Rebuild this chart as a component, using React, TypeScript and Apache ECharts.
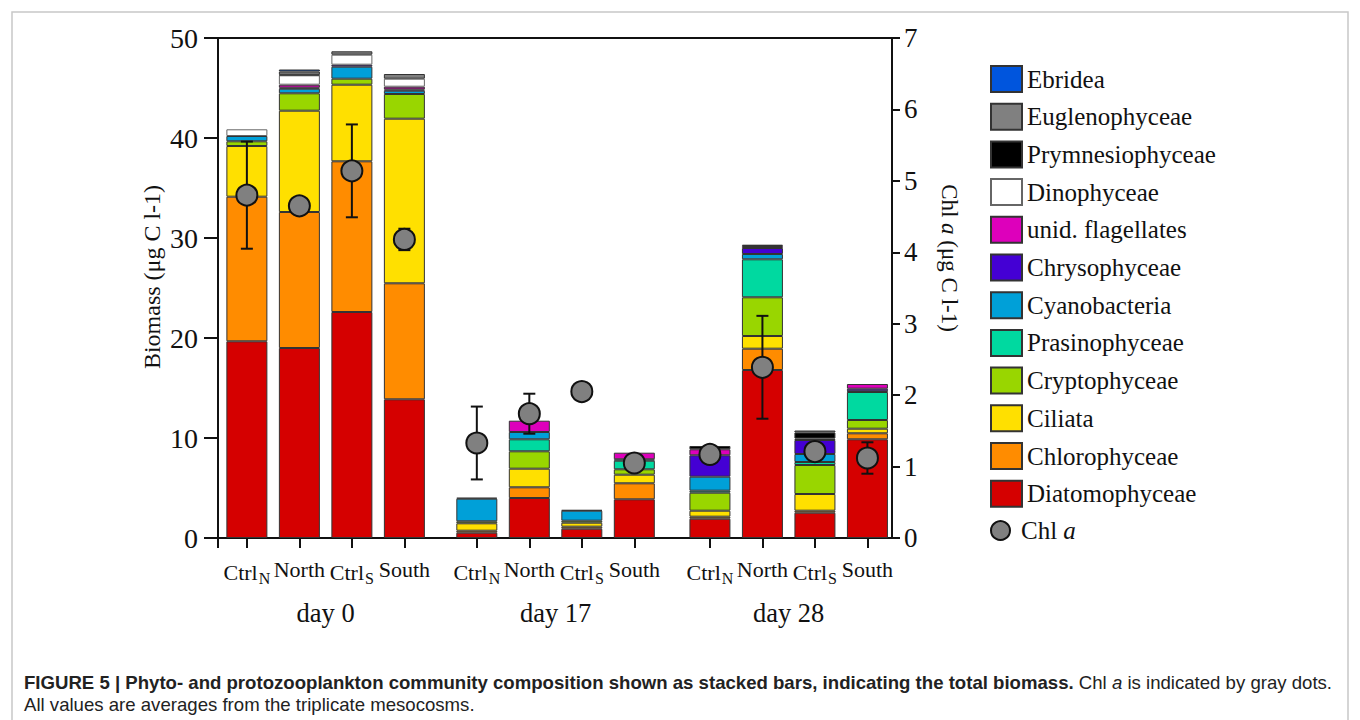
import React, { useEffect, useRef } from "react";
import * as echarts from "echarts";

// ---------- data ----------
const groups = ["day 0", "day 17", "day 28"];
const treatments = ["Ctrl{s|N}", "North", "Ctrl{s|S}", "South"];

// bottom-to-top stacking order; 12 bars: day0 (CtrlN, North, CtrlS, South), day17 (...), day28 (...)
const diatomophyceae = [19.67, 19.0, 22.6, 13.87, 0.53, 4.0, 0.93, 3.87, 1.93, 16.8, 2.53, 9.87];
const chlorophyceae = [14.46, 13.6, 15.07, 11.6, 0.2, 1.07, 0.2, 1.6, 0.2, 2.13, 0.2, 0.6];
const ciliata = [5.07, 10.13, 7.66, 16.46, 0.74, 1.86, 0.4, 0.86, 0.6, 1.27, 1.67, 0.46];
const cryptophyceae = [0.47, 1.74, 0.6, 2.47, 0.2, 1.74, 0.2, 0.54, 1.8, 3.87, 2.9, 0.87];
const prasinophyceae = [0, 0, 0, 0, 0, 1.2, 0, 0.86, 0.2, 3.8, 0.3, 2.8];
const cyanobacteria = [0.53, 0.46, 1.2, 0.33, 2.26, 0.73, 1.0, 0.14, 1.4, 0.53, 0.8, 0.07];
const chrysophyceae = [0, 0.1, 0.2, 0.13, 0.1, 0, 0.07, 0, 2.14, 0.6, 1.4, 0.26];
const unidFlagellates = [0, 0.3, 0, 0.27, 0, 1.13, 0, 0.66, 0.6, 0.2, 0.15, 0.47];
const dinophyceae = [0.67, 0.94, 1.0, 0.8, 0, 0, 0, 0, 0, 0, 0, 0];
const prymnesiophyceae = [0, 0.05, 0, 0, 0, 0, 0, 0, 0.33, 0.13, 0.6, 0];
const euglenophyceae = [0, 0.33, 0.34, 0.47, 0, 0, 0, 0, 0, 0, 0.2, 0];
const ebridea = [0, 0.2, 0, 0, 0, 0, 0, 0, 0, 0, 0, 0];

const chlA = [4.8, 4.65, 5.14, 4.18, 1.33, 1.74, 2.05, 1.05, 1.17, 2.39, 1.21, 1.12];
const chlAErr = [0.75, 0.05, 0.65, 0.15, 0.51, 0.28, 0.03, 0.05, 0.03, 0.72, 0.03, 0.22];

// ---------- layout (not data) ----------
// three sub-grids (one per sampling day), each a 4-slot category axis, plus a main frame grid
const SLOT = 52.5; // px per bar slot
const FRAME_LEFT = 218;
const FRAME_RIGHT = 892;
const FRAME_TOP = 38;
const FRAME_BOTTOM = 538;
const groupStart = [0.55, 4.93, 9.37]; // centre of first bar of each group, in slots from the left axis
const X_MAX = (FRAME_RIGHT - FRAME_LEFT) / SLOT;
const positions = diatomophyceae.map((_, i) => groupStart[Math.floor(i / 4)] + (i % 4));
const groupCentres = groupStart.map((s) => s + 1.5);

const SERIF = "Liberation Serif";

const speciesDefs: { name: string; values: number[]; color: string; border?: string }[] = [
  { name: "Diatomophyceae", values: diatomophyceae, color: "#d50000" },
  { name: "Chlorophyceae", values: chlorophyceae, color: "#ff8c00" },
  { name: "Ciliata", values: ciliata, color: "#ffe000" },
  { name: "Cryptophyceae", values: cryptophyceae, color: "#99d600" },
  { name: "Prasinophyceae", values: prasinophyceae, color: "#00d9a0" },
  { name: "Cyanobacteria", values: cyanobacteria, color: "#00a0d8" },
  { name: "Chrysophyceae", values: chrysophyceae, color: "#4400d4" },
  { name: "unid. flagellates", values: unidFlagellates, color: "#dd00bb" },
  { name: "Dinophyceae", values: dinophyceae, color: "#ffffff", border: "#666" },
  { name: "Prymnesiophyceae", values: prymnesiophyceae, color: "#000000" },
  { name: "Euglenophyceae", values: euglenophyceae, color: "#808080" },
  { name: "Ebridea", values: ebridea, color: "#0055dd" },
];

export default function App() {
  const ref = useRef<HTMLDivElement>(null);
  useEffect(() => {
    if (!ref.current) return;
    const chart = echarts.init(ref.current, undefined, { renderer: "svg" });

    const W = 1360;
    const H = 720;

    // grid 0: main frame; grids 1..3: one per day
    const grids: any[] = [
      {
        left: FRAME_LEFT,
        right: W - FRAME_RIGHT,
        top: FRAME_TOP,
        bottom: H - FRAME_BOTTOM,
        show: true,
        borderColor: "#111",
        borderWidth: 2,
        z: 1,
      },
      ...groupStart.map((s) => ({
        left: FRAME_LEFT + (s - 0.5) * SLOT,
        width: 4 * SLOT,
        top: FRAME_TOP,
        bottom: H - FRAME_BOTTOM,
        show: false,
      })),
    ];

    const subX = groupStart.map((_, g) => ({
      type: "category",
      gridIndex: g + 1,
      data: [0, 1, 2, 3].map((k) => String(g * 4 + k)),
      show: false,
    }));
    const subY = groupStart.map((_, g) => ({
      type: "value",
      gridIndex: g + 1,
      min: 0,
      max: 50,
      show: false,
      splitLine: { show: false },
    }));

    const barSeries: any[] = [];
    speciesDefs.forEach((s) => {
      groupStart.forEach((_, g) => {
        barSeries.push({
          name: s.name,
          type: "bar",
          stack: "biomass" + g,
          barWidth: 41,
          xAxisIndex: 2 + g,
          yAxisIndex: 2 + g,
          z: 2,
          itemStyle: { color: s.color, borderColor: s.border || "#333", borderWidth: 1 },
          data: s.values.slice(g * 4, g * 4 + 4).map((v) => (v > 0 ? v : "-")),
        });
      });
    });

    const option: any = {
      animation: false,
      backgroundColor: "#fff",
      grid: grids,
      xAxis: [
        {
          type: "value",
          gridIndex: 0,
          min: 0,
          max: X_MAX,
          position: "bottom",
          splitLine: { show: false },
          axisLine: { show: true, onZero: false, lineStyle: { color: "#111", width: 2 } },
          axisTick: {
            show: true,
            length: 10,
            customValues: [0, ...positions],
            lineStyle: { color: "#111", width: 2 },
          },
          axisLabel: {
            customValues: positions,
            hideOverlap: false,
            showMinLabel: true,
            showMaxLabel: true,
            margin: 20,
            fontFamily: SERIF,
            fontSize: 22,
            color: "#111",
            formatter: (v: number) => {
              const i = positions.findIndex((p) => Math.abs(p - v) < 1e-6);
              return i >= 0 ? treatments[i % 4] : "";
            },
            rich: {
              s: { fontFamily: SERIF, fontSize: 16, color: "#111", padding: [12, 0, 0, 1] },
            },
          },
        },
        {
          type: "value",
          gridIndex: 0,
          min: 0,
          max: X_MAX,
          position: "bottom",
          splitLine: { show: false },
          axisLine: { show: false, onZero: false },
          axisTick: { show: false },
          axisLabel: {
            customValues: groupCentres,
            hideOverlap: false,
            margin: 61,
            fontFamily: SERIF,
            fontSize: 26.5,
            color: "#111",
            formatter: (v: number) => {
              const i = groupCentres.findIndex((p) => Math.abs(p - v) < 1e-6);
              return i >= 0 ? groups[i] : "";
            },
          },
        },
        ...subX,
      ],
      yAxis: [
        {
          type: "value",
          gridIndex: 0,
          min: 0,
          max: 50,
          interval: 10,
          position: "left",
          name: "Biomass (μg C l-1)",
          nameLocation: "middle",
          nameGap: 54,
          nameRotate: 90,
          nameTextStyle: { fontFamily: SERIF, fontSize: 24, color: "#111", padding: [0, 0, 0, 22] },
          splitLine: { show: false },
          axisLine: { show: true, onZero: false, lineStyle: { color: "#111", width: 2 } },
          axisTick: { show: true, length: 14, lineStyle: { color: "#111", width: 2 } },
          axisLabel: { margin: 20, fontFamily: SERIF, fontSize: 28, color: "#111" },
        },
        {
          type: "value",
          gridIndex: 0,
          min: 0,
          max: 7,
          interval: 1,
          position: "right",
          name: "Chl {i|a} (μg C l-1)",
          nameLocation: "middle",
          nameGap: 46,
          nameRotate: -90,
          nameTextStyle: {
            fontFamily: SERIF,
            fontSize: 23,
            color: "#111",
            padding: [0, 60, 0, 0],
            rich: { i: { fontFamily: SERIF, fontSize: 23, fontStyle: "italic", color: "#111" } },
          },
          splitLine: { show: false },
          axisLine: { show: true, onZero: false, lineStyle: { color: "#111", width: 2 } },
          axisTick: { show: true, length: 8, lineStyle: { color: "#111", width: 2 } },
          axisLabel: { margin: 12, fontFamily: SERIF, fontSize: 27, color: "#111" },
        },
        ...subY,
      ],
      legend: [
        {
          orient: "vertical",
          left: 990,
          top: 65,
          padding: 0,
          itemWidth: 31,
          itemHeight: 26,
          itemGap: 9.7,
          icon: "rect",
          textStyle: { fontFamily: SERIF, fontSize: 25, color: "#111" },
          data: speciesDefs.map((s) => s.name).reverse(),
        },
        {
          orient: "vertical",
          left: 990,
          top: 518,
          padding: 0,
          itemWidth: 31,
          itemHeight: 19,
          textStyle: {
            fontFamily: SERIF,
            fontSize: 25,
            color: "#111",
            rich: { i: { fontFamily: SERIF, fontSize: 25, fontStyle: "italic", color: "#111" } },
          },
          formatter: (n: string) => (n === "Chl a" ? "Chl {i|a}" : n),
          data: [{ name: "Chl a", icon: "circle" }],
        },
      ],
      series: [
        ...barSeries,
        {
          name: "Chl a error",
          type: "custom",
          xAxisIndex: 0,
          yAxisIndex: 1,
          z: 5,
          encode: { x: 0, y: 1 },
          data: chlA.map((v, i) => [positions[i], v, chlAErr[i]]),
          renderItem: (params: any, api: any) => {
            const x = api.value(0);
            const y = api.value(1);
            const e = api.value(2);
            const top = api.coord([x, y + e]);
            const bot = api.coord([x, y - e]);
            const cap = 6;
            const style = { stroke: "#111", lineWidth: 2 };
            return {
              type: "group",
              children: [
                { type: "line", shape: { x1: top[0], y1: top[1], x2: bot[0], y2: bot[1] }, style },
                { type: "line", shape: { x1: top[0] - cap, y1: top[1], x2: top[0] + cap, y2: top[1] }, style },
                { type: "line", shape: { x1: bot[0] - cap, y1: bot[1], x2: bot[0] + cap, y2: bot[1] }, style },
              ],
            };
          },
        },
        {
          name: "Chl a",
          type: "scatter",
          xAxisIndex: 0,
          yAxisIndex: 1,
          z: 10,
          symbol: "circle",
          symbolSize: 21,
          itemStyle: { color: "#808080", borderColor: "#111", borderWidth: 2, opacity: 1 },
          data: chlA.map((v, i) => [positions[i], v]),
        },
      ],
      graphic: [
        {
          type: "rect",
          silent: true,
          shape: { x: 12, y: 12, width: 1336, height: 740 },
          style: { fill: "none", stroke: "#c8c8c8", lineWidth: 1.5 },
        },
        {
          type: "text",
          left: 24,
          top: 673,
          style: {
            text: "{b|FIGURE 5 | Phyto- and protozooplankton community composition shown as stacked bars, indicating the total biomass.} Chl {i|a} is indicated by gray dots.",
            fontFamily: "Liberation Sans",
            fontSize: 18.6,
            fill: "#222",
            rich: {
              b: { fontFamily: "Liberation Sans", fontSize: 18.6, fontWeight: "bold", fill: "#222" },
              i: { fontFamily: "Liberation Sans", fontSize: 18.6, fontStyle: "italic", fill: "#222" },
            },
          },
        },
        {
          type: "text",
          left: 24,
          top: 695,
          style: {
            text: "All values are averages from the triplicate mesocosms.",
            fontFamily: "Liberation Sans",
            fontSize: 18.6,
            fill: "#222",
          },
        },
      ],
    };

    chart.setOption(option);
    return () => chart.dispose();
  }, []);

  return (
    <div
      ref={ref}
      style={{ position: "fixed", left: 0, top: 0, width: 1360, height: 720, background: "#fff" }}
    />
  );
}
